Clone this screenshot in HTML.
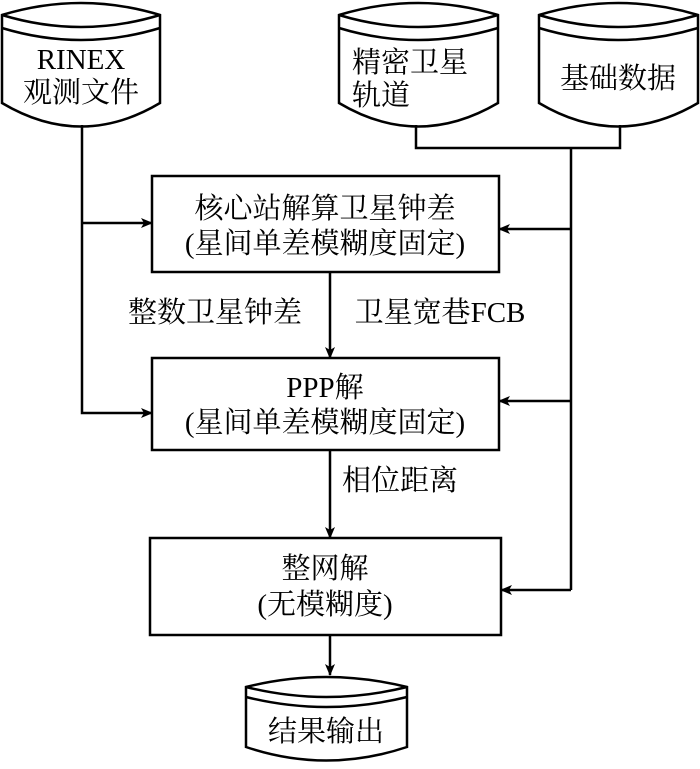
<!DOCTYPE html>
<html><head><meta charset="utf-8"><style>
body{margin:0;background:#fff}
svg text{font-family:"Liberation Serif","Noto Serif CJK SC",serif;font-size:29px;fill:#000}
</style></head><body>
<svg width="700" height="764" viewBox="0 0 700 764" xmlns="http://www.w3.org/2000/svg">
<defs><marker id="a" markerWidth="12" markerHeight="10" refX="11" refY="5" orient="auto" markerUnits="userSpaceOnUse"><path d="M0,0 L12,5 L0,10 L3,5 Z" fill="#000"/></marker></defs>
<g fill="none" stroke="#000" stroke-width="2.5">
<!-- cylinders -->
<path d="M2,15 Q81,-9 160,15 L160,103 Q81,150 2,103 Z"/><path d="M2,15 Q81,39 160,15"/><path d="M2,28 Q81,52 160,28"/>
<path d="M339,15 Q418,-9 498,15 L498,103 Q418,150 339,103 Z"/><path d="M339,15 Q418,39 498,15"/><path d="M339,28 Q418,52 498,28"/>
<path d="M539,15 Q618,-9 698,15 L698,103 Q618,150 539,103 Z"/><path d="M539,15 Q618,39 698,15"/><path d="M539,28 Q618,52 698,28"/>
<path d="M246,687 Q326,667 407,687 L407,747 Q326,774 246,747 Z"/><path d="M246,687 Q326,707 407,687"/><path d="M246,697 Q326,717 407,697"/>
<!-- boxes -->
<rect x="152" y="176" width="347" height="96"/>
<rect x="152" y="358" width="347" height="92"/>
<rect x="150" y="538" width="351" height="97"/>
<!-- connectors -->
<path d="M416,125 V148 H620 V125"/>
<path d="M571,148 V590"/>
<path d="M571,229 H499" marker-end="url(#a)"/>
<path d="M571,401 H499" marker-end="url(#a)"/>
<path d="M571,590 H501" marker-end="url(#a)"/>
<path d="M82,125 V413 H152" marker-end="url(#a)"/>
<path d="M82,223 H152" marker-end="url(#a)"/>
<path d="M330,272 V358" marker-end="url(#a)"/>
<path d="M330,450 V538" marker-end="url(#a)"/>
<path d="M330,635 V675" marker-end="url(#a)"/>
</g>
<text x="81" y="69" text-anchor="middle">RINEX</text>
<text x="81" y="102" text-anchor="middle">观测文件</text>
<text x="352" y="72">精密卫星</text>
<text x="352" y="105">轨道</text>
<text x="618" y="88" text-anchor="middle">基础数据</text>
<text x="325" y="218" text-anchor="middle">核心站解算卫星钟差</text>
<text x="325" y="253" text-anchor="middle">(星间单差模糊度固定)</text>
<text x="215" y="322" text-anchor="middle">整数卫星钟差</text>
<text x="440" y="322" text-anchor="middle">卫星宽巷FCB</text>
<text x="325" y="397" text-anchor="middle">PPP解</text>
<text x="325" y="432" text-anchor="middle">(星间单差模糊度固定)</text>
<text x="400" y="490" text-anchor="middle">相位距离</text>
<text x="325" y="578" text-anchor="middle">整网解</text>
<text x="325" y="614" text-anchor="middle">(无模糊度)</text>
<text x="326" y="741" text-anchor="middle">结果输出</text>
</svg>
</body></html>
